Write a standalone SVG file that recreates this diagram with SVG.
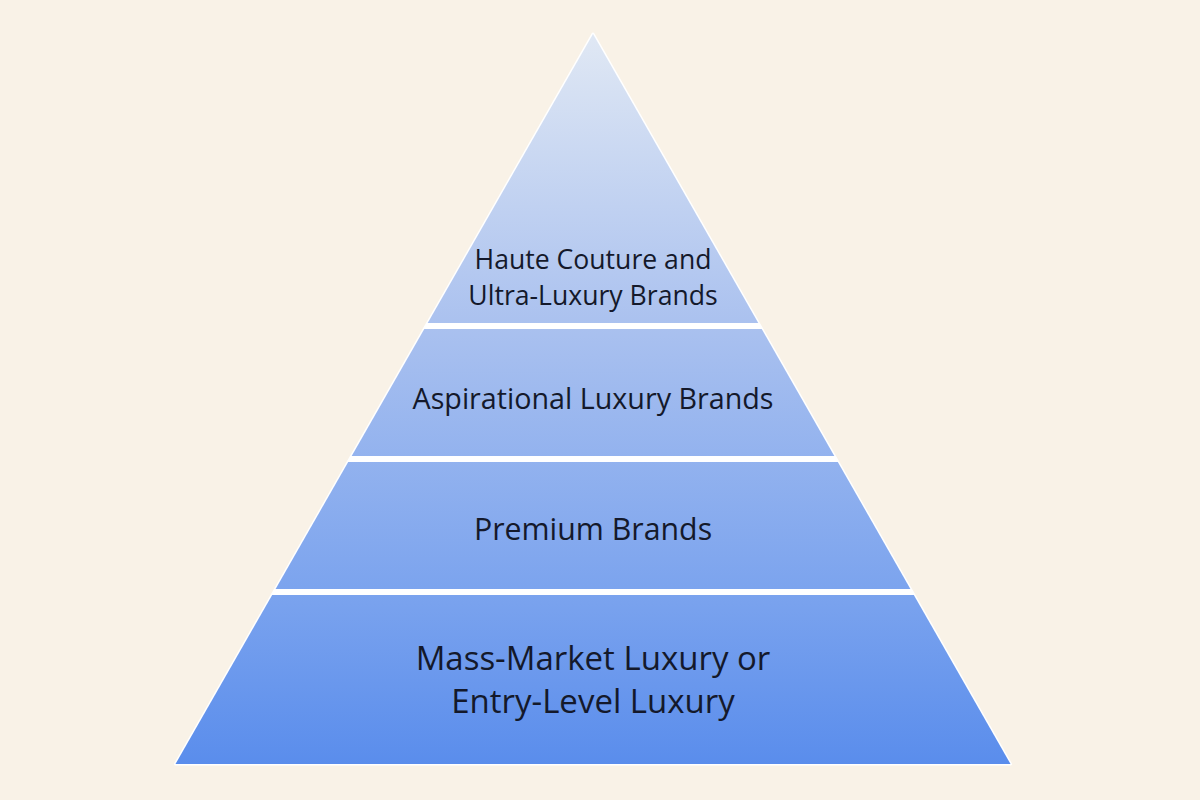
<svg xmlns="http://www.w3.org/2000/svg" width="1200" height="800" viewBox="0 0 1200 800">
  <defs>
    <linearGradient id="g" gradientUnits="userSpaceOnUse" x1="0" y1="34" x2="0" y2="764">
      <stop offset="0" stop-color="#e0e8f4"/>
      <stop offset="0.4" stop-color="#aac1ef"/>
      <stop offset="0.78" stop-color="#79a2ee"/>
      <stop offset="1" stop-color="#5a8dec"/>
    </linearGradient>
  </defs>
  <style>
    .tier { fill: url(#g); }
    .lbl { font-family: "Open Sans", "Liberation Sans", sans-serif; fill: #14192b; text-anchor: middle; }
  </style>
  <rect width="1200" height="800" fill="#f9f2e7"/>
  <polygon points="593,34 1010.5,764 175.5,764" fill="#ffffff" stroke="#ffffff" stroke-width="3" stroke-linejoin="round"/>
  <g id="tier1">
    <polygon class="tier" points="593,34 758.3,323 427.7,323"/>
    <text class="lbl" x="593" y="269" font-size="26.6">Haute Couture and</text>
    <text class="lbl" x="593" y="305" font-size="26.6">Ultra-Luxury Brands</text>
  </g>
  <g id="tier2">
    <polygon class="tier" points="424.3,329 761.7,329 834.3,456 351.7,456"/>
    <text class="lbl" x="593" y="409" font-size="28.7">Aspirational Luxury Brands</text>
  </g>
  <g id="tier3">
    <polygon class="tier" points="348.2,462 837.8,462 910.4,589 275.6,589"/>
    <text class="lbl" x="593" y="540" font-size="30.3">Premium Brands</text>
  </g>
  <g id="tier4">
    <polygon class="tier" points="272.2,595 913.8,595 1010.5,764 175.5,764"/>
    <text class="lbl" x="593" y="670" font-size="33">Mass-Market Luxury or</text>
    <text class="lbl" x="593" y="713" font-size="33">Entry-Level Luxury</text>
  </g>
</svg>
